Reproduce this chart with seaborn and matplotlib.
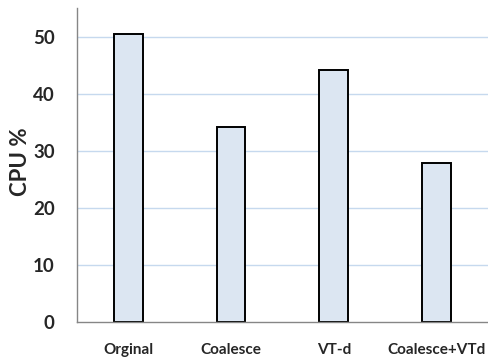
import matplotlib
matplotlib.use("Agg")
import matplotlib.pyplot as plt
import seaborn as sns
import pandas as pd
from matplotlib.ticker import FixedLocator

categories = ["Orginal", "Coalesce", "VT-d", "Coalesce+VTd"]
cpu_percent = [50.4, 34.1, 44.2, 27.9]
y_ticks = [0, 10, 20, 30, 40, 50]

df = pd.DataFrame({"config": categories, "cpu": cpu_percent})

sns.set_style("white")
plt.rcParams["font.family"] = ["Lato", "DejaVu Sans"]

fig = plt.figure(figsize=(4.89, 3.60), dpi=100)
ax = fig.add_axes([0.1575, 0.1056, 0.840, 0.872])

# light-blue horizontal gridlines behind the bars
for t in y_ticks[1:]:
    ax.axhline(t, color="#c6d9ee", linewidth=1.0, zorder=0)

sns.barplot(data=df, x="config", y="cpu", ax=ax, width=0.28,
            color="#dce6f2", edgecolor="black", linewidth=1.4,
            saturation=1, zorder=2)

ax.set_xlim(-0.5, 3.5)
ax.set_ylim(0, 55)
ax.set_yticks(y_ticks)
ax.set_yticklabels([str(t) for t in y_ticks], fontsize=13.5, fontweight="bold")
ax.set_xticks(range(len(categories)))
ax.set_xticklabels(categories, fontsize=11, fontweight="bold")
ax.tick_params(axis="x", which="major", length=0, pad=15)
ax.xaxis.set_minor_locator(FixedLocator([-0.5, 0.5, 1.5, 2.5, 3.5]))
ax.tick_params(axis="x", which="minor", length=5, color="#868686", direction="out")
ax.tick_params(axis="y", length=5, color="#868686", direction="out", pad=11)

ax.set_xlabel("")
ax.set_ylabel("CPU %", fontsize=16, fontweight="bold")
ax.yaxis.set_label_coords(-0.112, 0.51)

for side in ["top", "right"]:
    ax.spines[side].set_visible(False)
for side in ["left", "bottom"]:
    ax.spines[side].set_color("#868686")
    ax.spines[side].set_linewidth(1.0)

fig.savefig("out.png", dpi=100)
